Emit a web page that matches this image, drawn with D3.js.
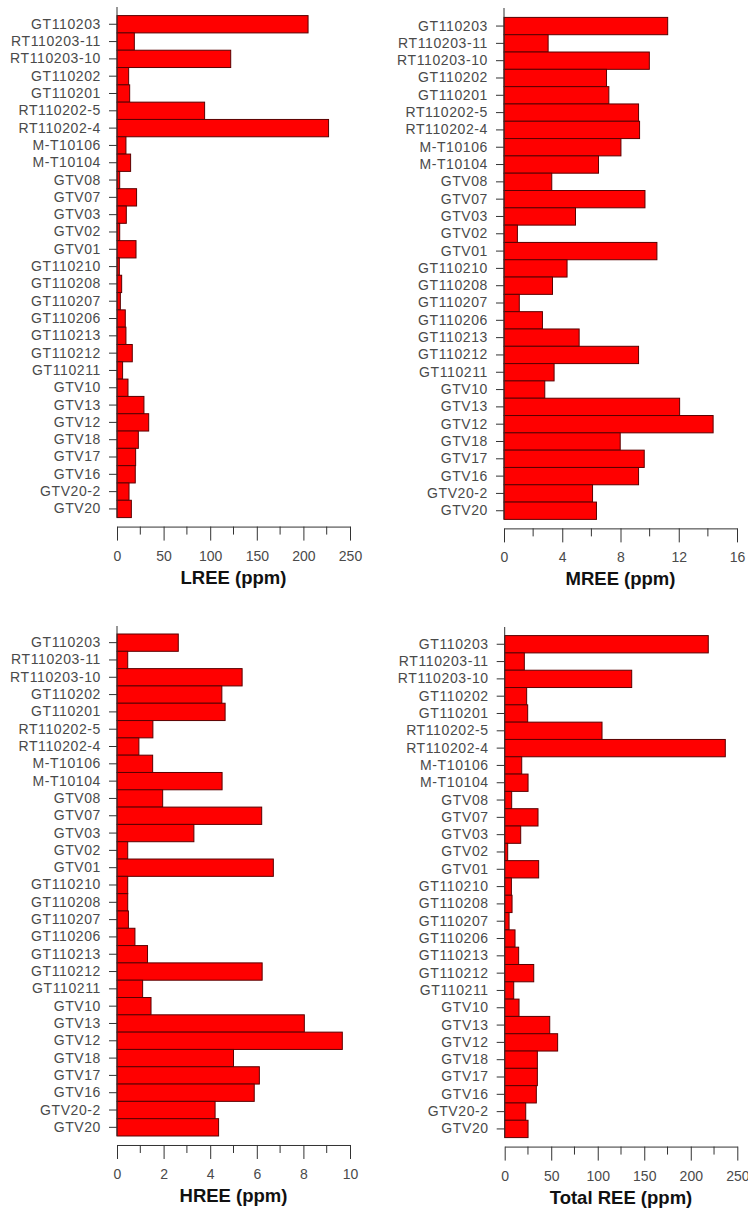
<!DOCTYPE html>
<html>
<head>
<meta charset="utf-8">
<script src="https://cdn.jsdelivr.net/npm/d3@7"></script>
<style>
  body { margin: 0; background: #fff; }
  svg { display: block; }
  .bar { fill: #ff0000; stroke: #5a0000; stroke-width: 1; }
  .axis path, .axis line { stroke: #333; stroke-width: 1; }
  .axis text { font-family: "Liberation Sans", Arial, sans-serif; font-size: 14px; fill: #4a4a4a; }
  .yaxis text { letter-spacing: 0.6px; }
  .title { font-family: "Liberation Sans", Arial, sans-serif; font-size: 18.5px; font-weight: bold; fill: #111; }
</style>
</head>
<body>
<svg id="chart" width="748" height="1208"></svg>
<script>
// sample names, top to bottom
let samples = ['GT110203', 'RT110203-11', 'RT110203-10', 'GT110202', 'GT110201', 'RT110202-5', 'RT110202-4',
  'M-T10106', 'M-T10104', 'GTV08', 'GTV07', 'GTV03', 'GTV02', 'GTV01', 'GT110210', 'GT110208', 'GT110207',
  'GT110206', 'GT110213', 'GT110212', 'GT110211', 'GTV10', 'GTV13', 'GTV12', 'GTV18', 'GTV17', 'GTV16',
  'GTV20-2', 'GTV20'];

let lree = [205, 18.6, 122, 12.5, 13.6, 94, 227, 9.6, 14.6, 2.9, 21, 10, 2.9, 20.4, 2.5, 5, 3.6,
  8.9, 9.6, 16.4, 6, 11.8, 28.9, 34, 22.9, 20, 19.6, 12.9, 15.4];
let mree = [11.24, 3.03, 9.98, 7.04, 7.2, 9.24, 9.31, 8.03, 6.49, 3.28, 9.68, 4.91, 0.92, 10.5, 4.33, 3.33, 1.05,
  2.64, 5.16, 9.24, 3.44, 2.8, 12.06, 14.36, 7.98, 9.63, 9.24, 6.08, 6.35];
let hree = [2.63, 0.46, 5.37, 4.5, 4.64, 1.54, 0.94, 1.53, 4.51, 1.96, 6.21, 3.3, 0.46, 6.71, 0.46, 0.46, 0.49,
  0.77, 1.31, 6.23, 1.1, 1.46, 8.04, 9.67, 5.0, 6.11, 5.89, 4.21, 4.36];
let totalRee = [218.8, 21.1, 136.5, 23.6, 24.7, 104.6, 237.1, 18.3, 25.1, 7.5, 35.8, 17.2, 3.2, 36.5, 7.2, 7.9, 4.7,
  11.1, 15, 31.2, 9.7, 15.4, 48.4, 56.9, 35.1, 35.1, 34, 22.6, 25.1];

let titles = ['LREE (ppm)', 'MREE (ppm)', 'HREE (ppm)', 'Total REE (ppm)'];
let series = [lree, mree, hree, totalRee];
let maxes = [250, 16, 10, 250];
let majorSteps = [50, 4, 2, 50];

// panel placement: left edge of bars, right end of x axis, top of bar block
let layout = [
  { x0: 117, x1: 350, top: 15.6, axisTop: 7 },
  { x0: 504, x1: 737, top: 17.4, axisTop: 8 },
  { x0: 117, x1: 350, top: 634, axisTop: 626 },
  { x0: 504.7, x1: 737.3, top: 635.6, axisTop: 627 }
];
let step = 17.31;

let svg = d3.select('#chart');

series.forEach((vals, p) => {
  let lay = layout[p];
  let bottom = lay.top + step * samples.length;
  let g = svg.append('g');

  let y = d3.scaleBand()
    .domain(samples)
    .range([lay.top, bottom])
    .padding(0);

  let x = d3.scaleLinear()
    .domain([0, maxes[p]])
    .range([lay.x0, lay.x1]);

  g.selectAll('rect')
    .data(vals)
    .join('rect')
    .classed('bar', true)
    .attr('x', x(0))
    .attr('y', (d, i) => y(samples[i]))
    .attr('width', d => x(d) - x(0))
    .attr('height', y.bandwidth());

  // y axis: ticks + labels, with the line drawn a bit above the bars
  let yAxis = d3.axisLeft(y).tickSize(8).tickPadding(8);
  let ya = g.append('g').attr('class', 'axis yaxis')
    .attr('transform', `translate(${lay.x0},0)`)
    .call(yAxis);
  ya.select('.domain').remove();
  g.append('line').attr('class', 'axis')
    .attr('x1', lay.x0).attr('x2', lay.x0)
    .attr('y1', lay.axisTop).attr('y2', bottom)
    .style('stroke', '#333');

  // x axis below, detached from bars
  let axisY = bottom + 9;
  let majors = d3.range(0, maxes[p] + 1e-9, majorSteps[p]);
  let minors = d3.range(majorSteps[p] / 2, maxes[p], majorSteps[p]);

  let xAxis = d3.axisBottom(x).tickValues(majors).tickSize(14).tickPadding(10).tickSizeOuter(0);
  let xa = g.append('g').attr('class', 'axis')
    .attr('transform', `translate(0,${axisY})`)
    .call(xAxis);

  xa.selectAll('.minor')
    .data(minors)
    .join('line')
    .attr('class', 'minor')
    .attr('x1', d => x(d)).attr('x2', d => x(d))
    .attr('y1', 0).attr('y2', 8);

  g.append('text')
    .attr('class', 'title')
    .attr('x', (lay.x0 + lay.x1) / 2)
    .attr('y', axisY + 57)
    .attr('text-anchor', 'middle')
    .text(titles[p]);
});
</script>
</body>
</html>
